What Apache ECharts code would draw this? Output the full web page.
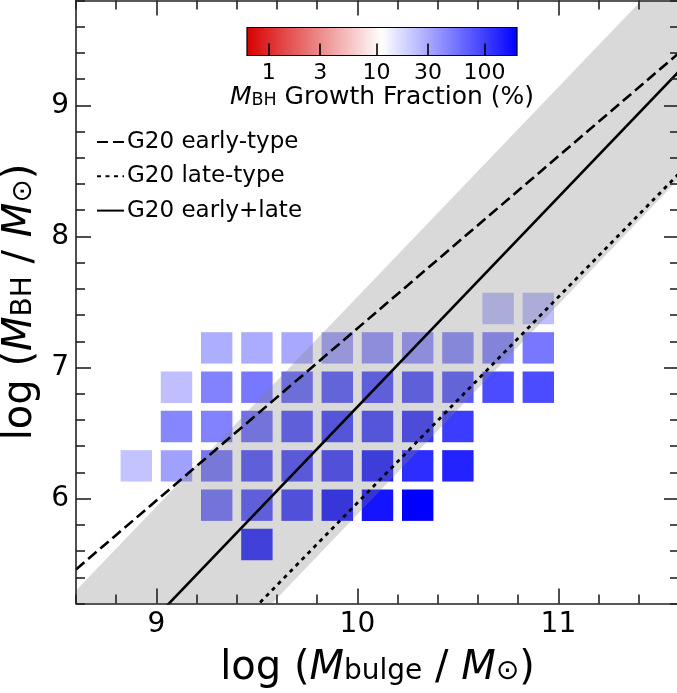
<!DOCTYPE html>
<html>
<head>
<meta charset="utf-8">
<script src="https://cdn.jsdelivr.net/npm/echarts@6/dist/echarts.min.js"></script>
<style>
  html, body { margin: 0; padding: 0; background: #fff; }
  #chart { width: 677px; height: 693px; }
</style>
</head>
<body>
<div id="chart"></div>
<script>
// Bin centres: log bulge mass (columns) and log BH mass (rows)
const bulgeMass = [8.9, 9.1, 9.3, 9.5, 9.7, 9.9, 10.1, 10.3, 10.5, 10.7, 10.9];
const bhMass = [5.65, 5.95, 6.25, 6.55, 6.85, 7.15, 7.45];

// M_BH growth fraction (%) in each cell, one array per BH-mass row (null = empty)
const growth565 = [null, null, null, 130, null, null, null, null, null, null, null];
const growth595 = [null, null, 58, 80, 101, 152, 159, 200, null, null, null];
const growth625 = [22, 33, 54, 80, 87, 101, 140, 120, 135, null, null];
const growth655 = [null, 44, 46, 58, 80, 94, 94, 110, 101, null, null];
const growth685 = [null, 23, 46, 52, 63, 74, 80, 80, 74, 86, 86];
const growth715 = [null, null, 28, 29, 30, 33, 38, 38, 42, 45, 52];
const growth745 = [null, null, null, null, null, null, null, null, null, 23, 23];
const growthRows = [growth565, growth595, growth625, growth655, growth685, growth715, growth745];

// G20 scaling relations (end points in log M_bulge, log M_BH)
const earlyType = [[8.6, 5.46], [11.6, 9.40]];
const lateType = [[8.6, 3.77], [11.6, 8.48]];
const earlyLate = [[8.6, 4.46], [11.6, 9.26]];
// scatter band around the early+late relation
const bandUpper = [[8.6, 5.30], [11.6, 10.10]];
const bandLower = [[8.6, 3.64], [11.6, 8.44]];

// Axis ticks
const xMajor = [9, 10, 11];
const yMajor = [6, 7, 8, 9];
const cbarTicks = [1, 3, 10, 30, 100];
const cbarRange = [0.63, 200];

const FONT = 'DejaVu Sans';

function minorTicks(lo, hi, step, majors) {
  const out = [];
  for (let k = Math.round(lo / step); k * step <= hi + 1e-9; k++) {
    const v = +(k * step).toFixed(4);
    if (!majors.some(m => Math.abs(m - v) < 1e-6)) out.push(v);
  }
  return out;
}
const xMinor = minorTicks(8.6, 11.6, 0.2, xMajor);
const yMinor = minorTicks(5.2, 9.8, 0.2, yMajor);

// red -> white -> blue colour map on a log scale
const RED = [215, 0, 0], WHITE = [255, 255, 255], BLUE = [0, 0, 255];
function mix(a, b, s) { return a.map((c, i) => Math.round(c + (b[i] - c) * s)); }
function cmapT(t) {
  t = Math.max(0, Math.min(1, t));
  const c = t < 0.5 ? mix(RED, WHITE, t * 2) : mix(WHITE, BLUE, (t - 0.5) * 2);
  return 'rgb(' + c.join(',') + ')';
}
const lmin = Math.log10(cbarRange[0]), lmax = Math.log10(cbarRange[1]);
function cmap(v) { return cmapT((Math.log10(v) - lmin) / (lmax - lmin)); }

const cells = [];
growthRows.forEach((row, j) => {
  row.forEach((v, i) => { if (v != null) cells.push([bulgeMass[i], bhMass[j], v]); });
});

// clip a polygon (pixel coords) to a rectangle
function clipHalf(pts, axis, bound, keepGE) {
  const out = [];
  for (let i = 0; i < pts.length; i++) {
    const a = pts[i], b = pts[(i + 1) % pts.length];
    const ina = keepGE ? a[axis] >= bound : a[axis] <= bound;
    const inb = keepGE ? b[axis] >= bound : b[axis] <= bound;
    if (ina) out.push(a);
    if (ina !== inb) {
      const t = (bound - a[axis]) / (b[axis] - a[axis]);
      out.push([a[0] + t * (b[0] - a[0]), a[1] + t * (b[1] - a[1])]);
    }
  }
  return out;
}
function clipRect(pts, r) {
  pts = clipHalf(pts, 0, r.x, true);
  pts = clipHalf(pts, 0, r.x + r.width, false);
  pts = clipHalf(pts, 1, r.y, true);
  pts = clipHalf(pts, 1, r.y + r.height, false);
  return pts;
}

const AX = '#222';
function richSet(size, subSize, pad, lh) {
  return {
    n: { fontFamily: FONT, fontSize: size, lineHeight: lh, verticalAlign: 'top', color: '#000' },
    i: { fontFamily: FONT, fontSize: size, fontStyle: 'italic', lineHeight: lh, verticalAlign: 'top', color: '#000' },
    s: { fontFamily: FONT, fontSize: subSize, lineHeight: lh, verticalAlign: 'top', padding: [pad, 0, 0, 0], color: '#000' }
  };
}

function mainAxis(dim, pos, ticks, len, withLabels, extra) {
  const isX = dim === 'x';
  return Object.assign({
    type: 'value', gridIndex: 0, position: pos,
    min: isX ? 8.6 : 5.2, max: isX ? 11.6 : 9.8,
    z: 10,
    axisLine: { show: true, onZero: false, lineStyle: { color: AX, width: 1.6 } },
    axisTick: { show: true, inside: true, length: len, customValues: ticks, lineStyle: { color: AX, width: 1.6 } },
    axisLabel: withLabels
      ? { show: true, customValues: ticks, fontFamily: FONT, fontSize: 28, color: '#000', margin: 7 }
      : { show: false },
    splitLine: { show: false }
  }, extra || {});
}

const chart = echarts.init(document.getElementById('chart'), null, { renderer: 'canvas' });

chart.setOption({
  animation: false,
  backgroundColor: '#fff',
  grid: [
    { left: 76, top: 0.5, width: 603, height: 603, containLabel: false, outerBoundsMode: 'none' },
    { left: 247, top: 27.5, width: 270, height: 28, containLabel: false, outerBoundsMode: 'none' }
  ],
  legend: {
    data: ['G20 early-type', 'G20 late-type', 'G20 early+late'],
    orient: 'vertical', left: 96, top: 130.5,
    itemWidth: 27, itemHeight: 14, itemGap: 11.3, padding: 0,
    itemStyle: { color: 'rgba(0,0,0,0)', borderColor: 'rgba(0,0,0,0)', borderWidth: 0, opacity: 0 },
    textStyle: { fontFamily: FONT, fontSize: 23, color: '#000', padding: [0, 0, 0, -2] }
  },
  xAxis: [
    mainAxis('x', 'bottom', xMajor, 15, true, {
      name: '{n|log (}{i|M}{s|bulge}{n| / }{i|M}{s|⊙}{n|)}',
      nameLocation: 'middle', nameGap: 45,
      nameTextStyle: { rich: richSet(40, 28, 9.5, 46) }
    }),
    mainAxis('x', 'bottom', xMinor, 9, false, { axisLine: { show: false } }),
    mainAxis('x', 'top', xMajor, 15, false),
    mainAxis('x', 'top', xMinor, 9, false, { axisLine: { show: false } }),
    {
      type: 'value', gridIndex: 1, position: 'bottom', min: lmin, max: lmax, z: 10,
      axisLine: { show: false, onZero: false },
      axisTick: { show: true, inside: true, length: 12, customValues: cbarTicks.map(Math.log10), lineStyle: { color: '#000', width: 1.6 } },
      axisLabel: {
        show: true, customValues: cbarTicks.map(Math.log10), margin: 7,
        fontFamily: FONT, fontSize: 22, color: '#000',
        formatter: v => String(Math.round(Math.pow(10, v)))
      },
      splitLine: { show: false },
      name: '{i|M}{s|BH}{n| Growth Fraction (%)}',
      nameLocation: 'middle', nameGap: 28.5,
      nameTextStyle: { rich: richSet(25, 17.5, 6, 29) }
    }
  ],
  yAxis: [
    mainAxis('y', 'left', yMajor, 15, true, {
      name: '{n|log (}{i|M}{s|BH}{n| / }{i|M}{s|⊙}{n|)}',
      nameLocation: 'middle', nameGap: 27, nameRotate: 90,
      nameTextStyle: { rich: richSet(40, 28, 9.5, 46) }
    }),
    mainAxis('y', 'left', yMinor, 9, false, { axisLine: { show: false } }),
    mainAxis('y', 'right', yMajor, 15, false),
    mainAxis('y', 'right', yMinor, 9, false, { axisLine: { show: false } }),
    { type: 'value', gridIndex: 1, min: 0, max: 1, show: false }
  ],
  series: [
    {
      type: 'scatter', name: 'cells', xAxisIndex: 0, yAxisIndex: 0,
      symbol: 'rect', symbolSize: 31.4, z: 2,
      data: cells,
      itemStyle: { color: p => cmap(p.data[2]), opacity: 1 },
      emphasis: { disabled: true }
    },
    {
      type: 'custom', name: 'band', xAxisIndex: 0, yAxisIndex: 0, z: 3,
      data: [[10, 7]],
      renderItem: (params, api) => {
        const poly = [
          api.coord(bandUpper[0]), api.coord(bandUpper[1]),
          api.coord(bandLower[1]), api.coord(bandLower[0])
        ];
        const cs = params.coordSys;
        return {
          type: 'polygon',
          shape: { points: clipRect(poly, { x: cs.x, y: cs.y, width: cs.width, height: cs.height }) },
          style: { fill: 'rgba(128,128,128,0.3)', stroke: null }
        };
      }
    },
    {
      type: 'line', name: 'G20 early-type', data: earlyType, symbol: 'none', clip: true, z: 4,
      lineStyle: { color: '#000', width: 2.6, type: [11, 5], cap: 'butt' },
      itemStyle: { color: '#000' }
    },
    {
      type: 'line', name: 'G20 late-type', data: lateType, symbol: 'none', clip: true, z: 4,
      lineStyle: { color: '#000', width: 2.8, type: [4, 4.5], cap: 'butt' },
      itemStyle: { color: '#000' }
    },
    {
      type: 'line', name: 'G20 early+late', data: earlyLate, symbol: 'none', clip: true, z: 4,
      lineStyle: { color: '#000', width: 2.6, type: 'solid' },
      itemStyle: { color: '#000' }
    },
    {
      type: 'custom', name: 'colorbar', xAxisIndex: 4, yAxisIndex: 4, z: 2,
      data: [[lmin, 0]],
      renderItem: (params, api) => {
        const p0 = api.coord([lmin, 1]);
        const p1 = api.coord([lmax, 0]);
        const stops = [];
        for (let k = 0; k <= 20; k++) stops.push({ offset: k / 20, color: cmapT(k / 20) });
        return {
          type: 'rect',
          shape: { x: p0[0], y: p0[1], width: p1[0] - p0[0], height: p1[1] - p0[1] },
          style: {
            fill: new echarts.graphic.LinearGradient(0, 0, 1, 0, stops),
            stroke: '#000', lineWidth: 1.2
          }
        };
      }
    }
  ]
});
</script>
</body>
</html>
